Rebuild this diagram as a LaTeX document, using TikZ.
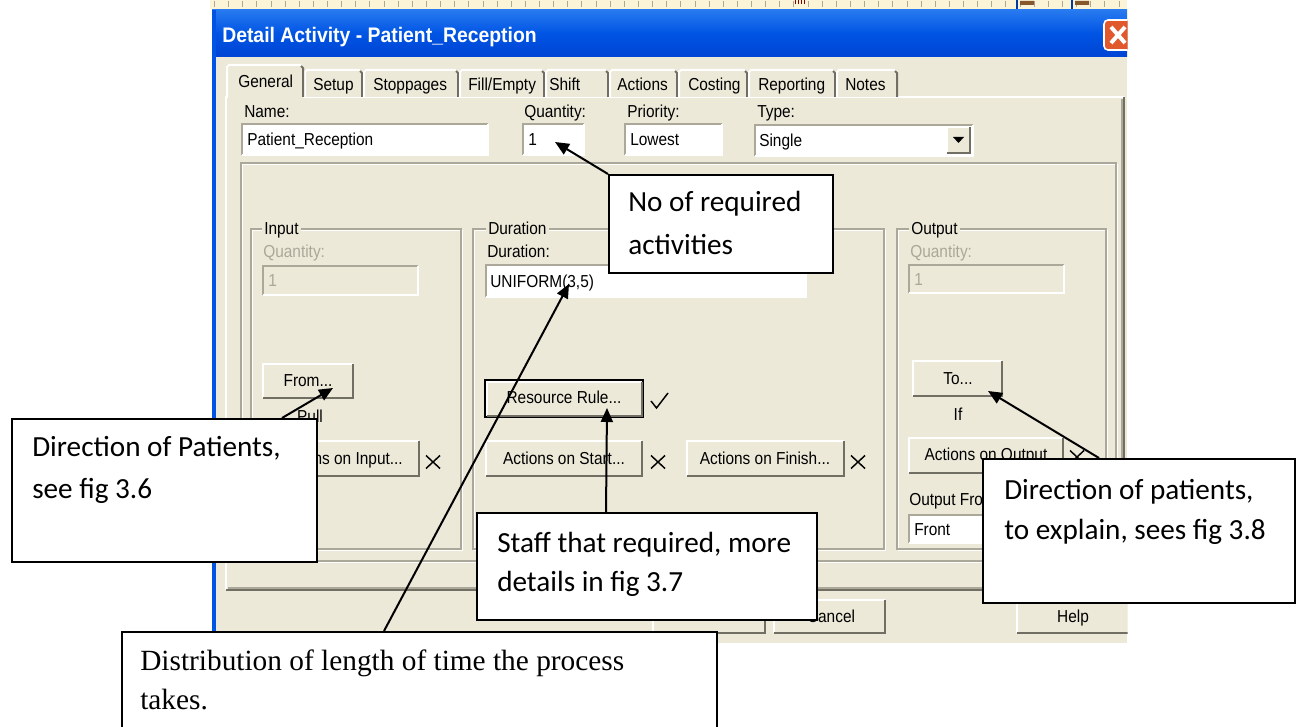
\documentclass[tikz,border=0pt]{standalone}
\usepackage{fontspec}
\setmainfont{Liberation Sans}
\newfontfamily\uiface[FakeStretch=0.89]{Liberation Sans}
\newfontfamily\titleface[FakeStretch=0.92]{Liberation Sans}
\newfontfamily\calfont{Carlito}
\newfontfamily\serfont{Liberation Serif}
\usetikzlibrary{arrows.meta,calc,fit}
\definecolor{face}{HTML}{ECE9D8}
\definecolor{shad}{HTML}{ACA899}
\definecolor{darkedge}{HTML}{716F64}
\definecolor{xpblue}{HTML}{0054E3}
\definecolor{distext}{HTML}{ACA899}
\definecolor{stripcol}{HTML}{FBF4D6}
\definecolor{closered}{HTML}{E0582C}
\newcommand{\uifnt}{\uiface\fontsize{13}{15}\selectfont}
\newcommand{\uiraise}[4]{%
  \fill[face] (#1,#2) rectangle (#3,#4);
  \draw[white,line width=1.5pt] (#1,#4) -- (#1,#2) -- (#3,#2);
  \draw[darkedge,line width=1.5pt] (#1,#4) -- (#3,#4) -- (#3,#2);}
\newcommand{\uisunk}[5]{%
  \fill[#5] (#1,#2) rectangle (#3,#4);
  \draw[shad,line width=1.5pt] (#1,#4) -- (#1,#2) -- (#3,#2);
  \draw[white,line width=1.5pt] (#1,#4) -- (#3,#4) -- (#3,#2);}
\newcommand{\uietch}[4]{%
  \draw[white,line width=1pt] (#1+1.5,#2+1.5) rectangle (#3+1.5,#4+1.5);
  \draw[shad,line width=1pt] (#1,#2) rectangle (#3,#4);}
\newcommand{\uitab}[3]{%
  \fill[face] (#1,#3) rectangle (#2,97);
  \draw[white,line width=1.5pt] (#1,97) -- (#1,#3+2) -- (#1+2,#3) -- (#2-2,#3);
  \draw[darkedge,line width=1.5pt] (#2-2,#3+1) -- (#2,#3+3) -- (#2,97);}
\newcommand{\uix}[2]{%
  \draw[black,line width=1.1pt] (#1-7,#2-6.5) -- (#1+7,#2+6.5) (#1-7,#2+6.5) -- (#1+7,#2-6.5);}
\begin{document}
\begin{tikzpicture}[x=0.75pt,y=-0.75pt,
  ui/.style={font=\uifnt, inner sep=0pt, text height=10pt, text depth=2.4pt, anchor=west},
  uic/.style={ui, anchor=center},
  dis/.style={ui, text=distext},
  lbl/.style={ui, fill=face, inner xsep=1.5pt},
  cal/.style={font=\calfont\fontsize{21.9}{26}\selectfont, inner sep=0pt, text height=16pt, text depth=4pt, anchor=west},
  ser/.style={font=\serfont\fontsize{22}{26}\selectfont, inner sep=0pt, text height=16pt, text depth=4pt, anchor=west},
  callout/.style={draw=black, line width=1.5pt, fill=white, inner sep=0pt},
  arr/.style={draw=black, line width=1.5pt, -{Triangle[length=10.5pt,width=9pt]}},
]
\useasboundingbox (0,0) rectangle (1302,727);
\fill[white] (0,0) rectangle (1302,727);

\begin{scope}
\clip (0,0) rectangle (1127.5,727);
% background application strip
\fill[stripcol] (210,0) rectangle (1127,9);
\draw[shad, line width=4pt, dash pattern=on 0.6pt off 10pt] (214,4) -- (1127,4);
\draw[xpblue!70!black, line width=0.8pt] (1017,0) -- (1017,9) (1072,0) -- (1072,9);
\fill[brown!70!black] (1020,1) rectangle (1034,5) (1075,1) rectangle (1089,5);
\draw[red!50!black, line width=0.6pt] (795,0) -- (795,4) (798,0) -- (798,4) (801,0) -- (801,4) (804,0) -- (804,4);

% title bar
\shade[top color={rgb,255:red,40;green,122;blue,240}, bottom color={rgb,255:red,0;green,68;blue,212}, middle color=xpblue] (212,10) rectangle (1127,57);
\node[font=\titleface\bfseries\fontsize{15.8}{18}\selectfont, text=white, inner sep=0pt, anchor=west, text height=12pt, text depth=3pt] (title) at (222,37) {Detail Activity - Patient\_Reception};
\filldraw[fill=closered, draw=white, line width=1.2pt, rounded corners=3pt] (1104,20) rectangle (1145,50);
\draw[white, line width=3pt] (1111,27) -- (1125,43) (1111,43) -- (1125,27);

% dialog body
\fill[face] (212,57) rectangle (1127,643);
\fill[xpblue] (212,10) rectangle (215.5,643);

% tab panel
\draw[white,line width=1.5pt] (226,590) -- (226,97) -- (1124,97);
\draw[darkedge,line width=1.5pt] (226,590) -- (1124,590) -- (1124,97);
\draw[shad,line width=1pt] (228,588) -- (1122,588) -- (1122,99);

% tabs
\uitab{305}{362}{70}
\uitab{364}{458}{70}
\uitab{460}{544}{70}
\uitab{546}{608}{70}
\uitab{610}{677}{70}
\uitab{679}{747}{70}
\uitab{749}{835}{70}
\uitab{837}{897}{70}
\fill[face] (227,65) rectangle (303,99);
\draw[white,line width=1.5pt] (227,98) -- (227,67) -- (229,65) -- (301,65);
\draw[darkedge,line width=1.5pt] (301,66) -- (303,68) -- (303,97);
\node[ui] (tGeneral) at (238,82) {General};
\node[ui] (tSetup) at (313,85) {Setup};
\node[ui] (tStop) at (373,85) {Stoppages};
\node[ui] (tFill) at (468,85) {Fill/Empty};
\node[ui] (tShift) at (549,85) {Shift};
\node[ui] (tActions) at (617,85) {Actions};
\node[ui] (tCosting) at (688,85) {Costing};
\node[ui] (tReporting) at (758,85) {Reporting};
\node[ui] (tNotes) at (845,85) {Notes};

% top row of fields
\node[ui] (lName) at (244,112) {Name:};
\node[ui] (lQty) at (524,112) {Quantity:};
\node[ui] (lPrio) at (627,112) {Priority:};
\node[ui] (lType) at (757,112) {Type:};
\uisunk{242}{124}{488}{155}{white}
\uisunk{523}{124}{584}{155}{white}
\uisunk{625}{124}{722}{155}{white}
\uisunk{755}{125}{973}{156}{white}
\uiraise{947}{127}{970}{153}
\fill[black] (953,137) -- (964,137) -- (958.5,143) -- cycle;
\node[ui] (fName) at (247,140) {Patient\_Reception};
\node[ui] (fQty) at (528,140) {1};
\node[ui] (fPrio) at (630,140) {Lowest};
\node[ui] (fType) at (759,141) {Single};

% big frame
\uietch{241}{163}{1116}{561}

% Input group
\uietch{251}{229}{461}{549}
\node[lbl] (gInput) at (262,229) {Input};
\node[dis] (iQtyL) at (263,252) {Quantity:};
\uisunk{263}{266}{418}{295}{face}
\node[dis] (iQty) at (268,281) {1};
\uiraise{263}{364}{353}{398}
\node[uic] (bFrom) at (308,381) {From...};
\node[uic] (tPull) at (310,417) {Pull};
\uiraise{263}{441}{419}{476}
\node[uic] (bInAct) at (341,459) {Actions on Input...};
\uix{433}{462}

% Duration group
\uietch{473}{229}{884}{549}
\node[lbl] (gDur) at (486,229) {Duration};
\node[ui] (dLbl) at (487,252) {Duration:};
\uisunk{486}{265}{806}{297}{white}
\node[ui] (dField) at (490,282) {UNIFORM(3,5)};
\draw[black,line width=1.2pt] (485,380) rectangle (643,417);
\uiraise{487}{381.5}{641.5}{415.5}
\node[uic] (bRes) at (564,398) {Resource Rule...};
\draw[black,line width=1.1pt] (651,401) -- (656.5,408) -- (668,393);
\uiraise{486}{441}{642}{476}
\node[uic] (bStart) at (564,459) {Actions on Start...};
\uix{658}{462}
\uiraise{687}{441}{844}{476}
\node[uic] (bFinish) at (765,459) {Actions on Finish...};
\uix{858}{462}

% Output group
\uietch{897}{229}{1106}{549}
\node[lbl] (gOut) at (909,229) {Output};
\node[dis] (oQtyL) at (910,252) {Quantity:};
\uisunk{909}{265}{1064}{293}{face}
\node[dis] (oQty) at (914,280) {1};
\uiraise{913}{361}{1002}{396}
\node[uic] (bTo) at (958,379) {To...};
\node[uic] (tIf) at (958,415) {If};
\uiraise{909}{438}{1063}{473}
\node[uic] (bOutAct) at (986,455) {Actions on Output};
\uix{1077}{457}
\node[ui] (lOutFrom) at (909,500) {Output From:};
\uisunk{909}{515}{1064}{543}{white}
\node[ui] (fFront) at (914,530) {Front};

% bottom buttons
\uiraise{653}{600}{765}{633}
\node[uic] (bOK) at (709,612) {OK};
\uiraise{774}{600}{885}{633}
\node[uic] (bCancel) at (831,617) {Cancel};
\uiraise{1017}{598}{1140}{633}
\node[uic] (bHelp) at (1073,617) {Help};
\end{scope}

% arrow targets
\coordinate (tipQ) at (555,142);
\coordinate (tipFrom) at (333,388);
\coordinate (tipRes) at (607,408);
\coordinate (tipTo) at (988,391);
\coordinate (tipUni) at (569,284);

% callouts
\node[callout, fit={(609,175)(833,273)}] (boxA) {};
\node[cal] (boxAt1) at (628,204) {No of required};
\node[cal] (boxAt2) at (628,246) {activities};

\node[callout, fit={(12,419)(317,562)}] (boxB) {};
\node[cal] (boxBt1) at (32,448) {Direction of Patients,};
\node[cal] (boxBt2) at (32,490) {see fig 3.6};

\node[callout, fit={(477,513)(817,620)}] (boxC) {};
\node[cal] (boxCt1) at (497,544) {Staff that required, more};
\node[cal] (boxCt2) at (497,583) {details in fig 3.7};

\node[callout, fit={(983,459)(1295,603)}] (boxD) {};
\node[cal] (boxDt1) at (1004,491) {Direction of patients,};
\node[cal] (boxDt2) at (1004,531) {to explain, sees fig 3.8};

\node[callout, fit={(122,632)(717,740)}] (boxE) {};
\node[ser] (boxEt1) at (140,662) {Distribution of length of time the process};
\node[ser] (boxEt2) at (140,701) {takes.};

% arrows
\draw[arr] (boxA.north west) -- (tipQ);
\draw[arr] ($(boxB.north west)+(271,0)$) -- (tipFrom);
\draw[arr] ($(boxC.north west)+(130,0)$) -- (tipRes);
\draw[arr] ($(boxD.north west)+(117,0)$) -- (tipTo);
\draw[arr] ($(boxE.north west)+(263,0)$) -- (tipUni);
\end{tikzpicture}
\end{document}
